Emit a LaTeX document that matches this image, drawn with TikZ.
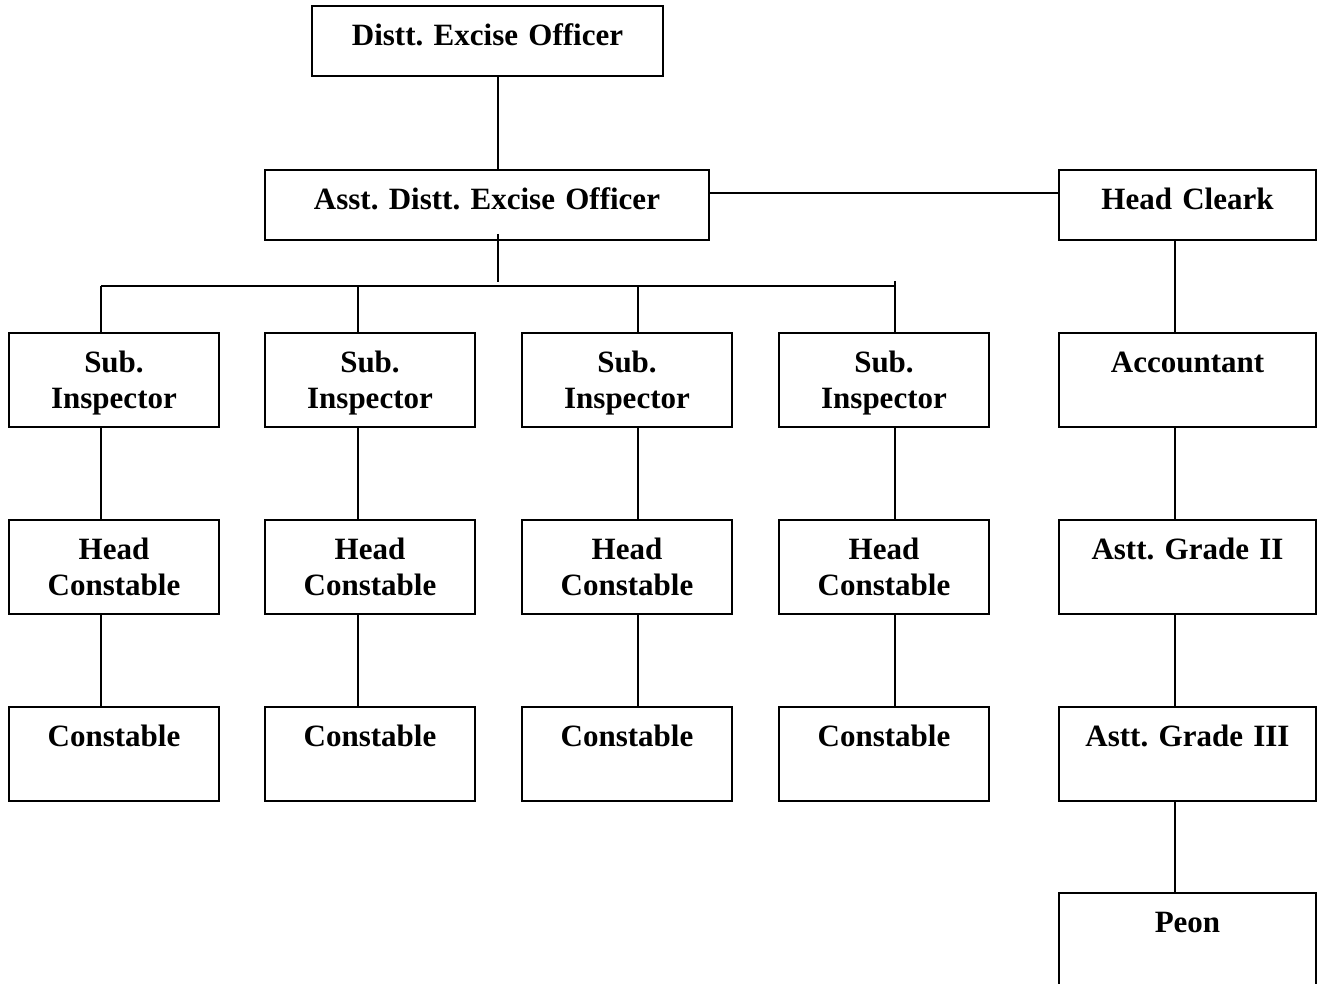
\documentclass[tikz,border=0pt]{standalone}
\usepackage{fontspec}
\setmainfont{Liberation Serif}
\frenchspacing
\begin{document}
\begin{tikzpicture}[x=1pt,y=-1pt,line width=2pt,
  box/.style={draw,line width=2pt,inner sep=0pt,anchor=north west,minimum height=94pt,minimum width=210pt},
  lbl/.style={anchor=base,text width=300pt,align=center,inner sep=0pt,
    font=\fontsize{31}{36}\selectfont\bfseries\frenchspacing}]
\useasboundingbox (0,0) rectangle (1320,984);
\clip (0,0) rectangle (1320,984);
% top
\node[box,minimum width=351pt,minimum height=70pt] (deo) at (311,5) {};
\node[lbl] (deot) at ([yshift=-40.5pt]deo.north) {Distt. Excise Officer};
\node[box,minimum width=444pt,minimum height=70pt] (adeo) at (264,169) {};
\node[lbl,text width=440pt] (adeot) at ([yshift=-40.5pt]adeo.north) {Asst. Distt. Excise Officer};
\node[box,minimum width=257pt,minimum height=70pt] (hc) at (1058,169) {};
\node[lbl] (hct) at ([yshift=-40.5pt]hc.north) {Head Cleark};
% columns
\foreach \i/\x in {1/8,2/264,3/521,4/778}{
  \node[box] (si\i) at (\x,332) {};
  \node[lbl] at ([yshift=-40.5pt]si\i.north) {Sub.\\Inspector};
  \node[box] (hd\i) at (\x,519) {};
  \node[lbl] at ([yshift=-40.5pt]hd\i.north) {Head\\Constable};
  \node[box] (co\i) at (\x,706) {};
  \node[lbl] at ([yshift=-40.5pt]co\i.north) {Constable};
}
% right column
\node[box,minimum width=257pt] (acc) at (1058,332) {};
\node[lbl] at ([yshift=-40.5pt]acc.north) {Accountant};
\node[box,minimum width=257pt] (ag2) at (1058,519) {};
\node[lbl] at ([yshift=-40.5pt]ag2.north) {Astt. Grade II};
\node[box,minimum width=257pt] (ag3) at (1058,706) {};
\node[lbl] at ([yshift=-40.5pt]ag3.north) {Astt. Grade III};
\node[box,minimum width=257pt,minimum height=120pt] (peon) at (1058,892) {};
\node[lbl] at ([yshift=-40.5pt]peon.north) {Peon};
% connector x positions
\coordinate (xm) at (498,0);
\coordinate (x1) at (101,0);
\coordinate (x2) at (358,0);
\coordinate (x3) at (638,0);
\coordinate (x4) at (895,0);
\coordinate (xr) at (1175,0);
\coordinate (busL) at (101,286);
\coordinate (busR) at (895,286);
\coordinate (stubA) at (498,234);
\coordinate (stubB) at (498,282);
\coordinate (tick) at (895,281);
% connectors
\draw (xm |- deo.south) -- (xm |- adeo.north);
\draw ([yshift=12pt]adeo.east) -- ([yshift=12pt]hc.west);
\draw (stubA) -- (stubB);
\draw (busL) -- (busR);
\draw (tick) -- (x4 |- si4.north);
\foreach \i in {1,2,3}{
  \draw (x\i |- busL) -- (x\i |- si\i.north);
}
\foreach \i in {1,2,3,4}{
  \draw (x\i |- si\i.south) -- (x\i |- hd\i.north);
  \draw (x\i |- hd\i.south) -- (x\i |- co\i.north);
}
\draw (xr |- hc.south) -- (xr |- acc.north);
\draw (xr |- acc.south) -- (xr |- ag2.north);
\draw (xr |- ag2.south) -- (xr |- ag3.north);
\draw (xr |- ag3.south) -- (xr |- peon.north);
\end{tikzpicture}
\end{document}
